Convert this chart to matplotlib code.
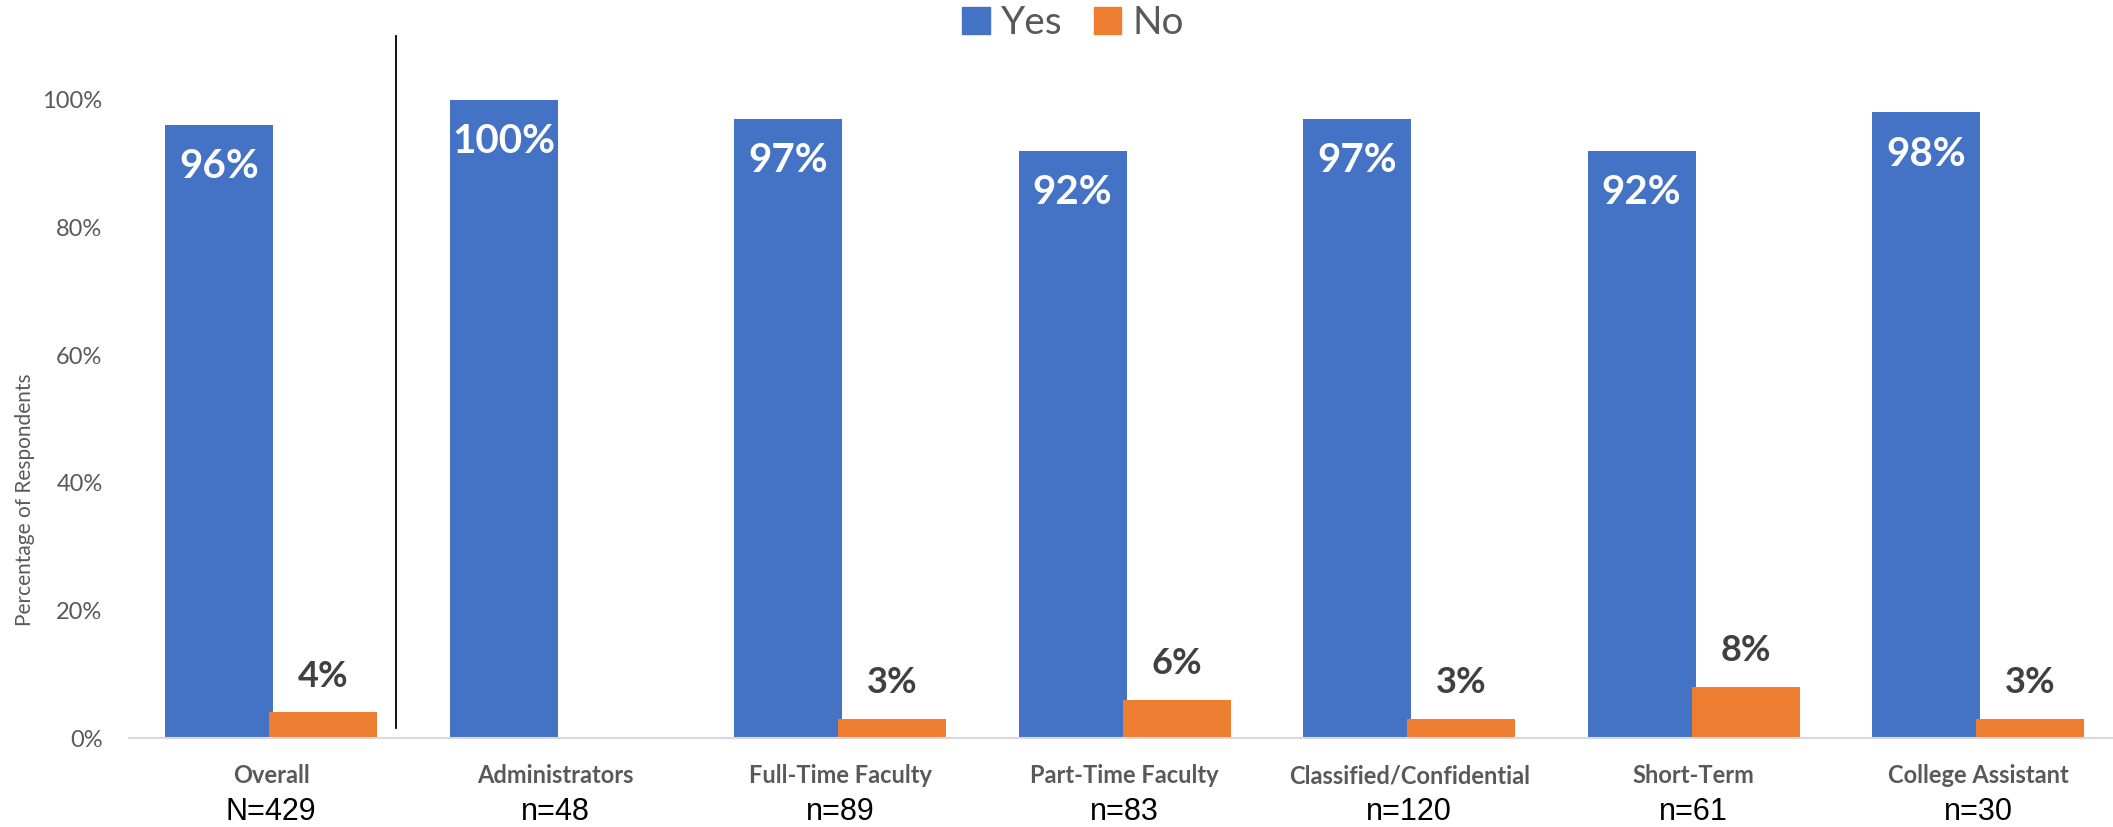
import numpy as np
import matplotlib
matplotlib.use("Agg")
import matplotlib.pyplot as plt
from matplotlib.patches import Patch

# data
categories = ["Overall", "Administrators", "Full-Time Faculty", "Part-Time Faculty",
              "Classified/Confidential", "Short-Term", "College Assistant"]
n_labels = ["N=429", "n=48", "n=89", "n=83", "n=120", "n=61", "n=30"]
yes_vals = [96, 100, 97, 92, 97, 92, 98]
no_vals = [4, 0, 3, 6, 3, 8, 3]

blue = "#4472C4"
orange = "#ED7D31"
gray = "#595959"

plt.rcParams['font.family'] = ['Lato', 'DejaVu Sans']

fig = plt.figure(figsize=(21.13, 8.27), dpi=100, facecolor='white')
ax = fig.add_axes([0.06105, 0.1076, 0.9425, 0.849])

x = np.arange(len(categories))
w = 0.38
off = 0.183
yes = np.array(yes_vals) / 100
no = np.array(no_vals) / 100

ax.bar(x - off, yes, width=w, color=blue, zorder=2)
ax.bar(x + off, no, width=w, color=orange, zorder=2)

# labels on bars (Administrators has no "No" label)
for xi, v in zip(x, yes_vals):
    ax.annotate(f"{v}%", (xi - off, v / 100), xytext=(0, -30), textcoords='offset points',
                ha='center', va='center', color='white', fontsize=29, fontweight='bold')
for xi, v in zip(x, no_vals):
    if v == 0:
        continue
    ax.annotate(f"{v}%", (xi + off, v / 100), xytext=(0, 26), textcoords='offset points',
                ha='center', va='center', color='#404040', fontsize=26, fontweight='bold')

# divider between Overall and the groups
ax.plot([0.44, 0.44], [0.016, 1.1], color='black', linewidth=1.3, zorder=3, clip_on=False)

ax.set_xlim(-0.5, len(categories) - 0.5)
ax.set_ylim(0, 1.1)
ax.set_yticks([0, 0.2, 0.4, 0.6, 0.8, 1.0])
ax.set_yticklabels(["0%", "20%", "40%", "60%", "80%", "100%"])
ax.tick_params(axis='y', length=0, pad=19, labelsize=17, labelcolor=gray)
ax.set_xticks([])

for s in ['top', 'right', 'left']:
    ax.spines[s].set_visible(False)
ax.spines['bottom'].set_color('#D9D9D9')
ax.spines['bottom'].set_linewidth(1.5)

# category names and sample sizes under the axis
for xi, cat, nl in zip(x, categories, n_labels):
    ax.annotate(cat, (xi, 0), xytext=(0, -27), textcoords='offset points',
                ha='center', va='center', fontsize=17, fontweight='bold', color=gray)
    ax.annotate(nl, (xi, 0), xytext=(0, -53), textcoords='offset points',
                ha='center', va='center', fontsize=22, color='black',
                family=['Liberation Sans', 'DejaVu Sans'])

fig.text(25 / 2113, 1 - 500 / 827, "Percentage of Respondents", rotation=90,
         ha='center', va='center', fontsize=15, color=gray)

handles = [Patch(color=blue, label="Yes"), Patch(color=orange, label="No")]
fig.legend(handles=handles, loc='center', bbox_to_anchor=(0.508, 0.972), ncol=2,
           frameon=False, fontsize=28, handlelength=0.7, handleheight=0.7,
           handletextpad=0.3, columnspacing=0.8, labelcolor=gray)

fig.savefig("out.png", dpi=100, facecolor='white')
